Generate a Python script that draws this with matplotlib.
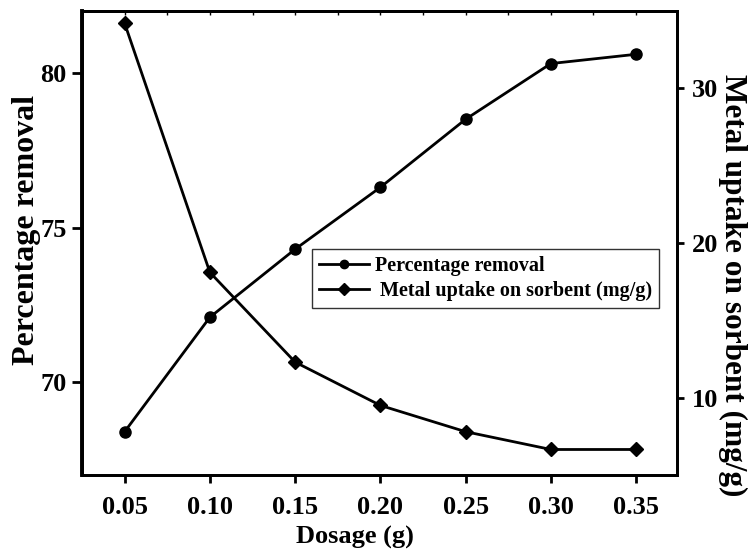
import matplotlib
matplotlib.use('Agg')
import matplotlib.pyplot as plt

# values
dosage = [0.05, 0.10, 0.15, 0.20, 0.25, 0.30, 0.35]
pct_removal = [68.4, 72.1, 74.3, 76.3, 78.5, 80.3, 80.6]
metal_uptake = [34.2, 18.1, 12.3, 9.5, 7.8, 6.65, 6.65]

plt.rcParams['font.family'] = 'Liberation Serif'
plt.rcParams['font.weight'] = 'bold'
plt.rcParams['axes.labelweight'] = 'bold'

fig = plt.figure(figsize=(7.54, 5.57), dpi=100)
ax = fig.add_axes([0.1088, 0.1472, 0.7891, 0.8331])
ax2 = ax.twinx()

l1, = ax.plot(dosage, pct_removal, color='black', lw=2.0, marker='o', ms=8,
              label='Percentage removal')
l2, = ax2.plot(dosage, metal_uptake, color='black', lw=2.0, marker='D', ms=7.5,
               label=' Metal uptake on sorbent (mg/g)')

ax.set_xlim(0.025, 0.374)
ax.set_ylim(67, 82)
ax2.set_ylim(5, 35)

ax.set_xticks(dosage)
ax.set_xticklabels([f'{d:.2f}' for d in dosage])
ax.set_yticks([70, 75, 80])
ax2.set_yticks([10, 20, 30])

ax.tick_params(axis='x', direction='out', length=6, width=2, labelsize=19, pad=9)
ax.tick_params(axis='y', direction='out', length=7, width=2, labelsize=19, pad=4)
ax2.tick_params(axis='y', direction='out', length=5, width=2, labelsize=19, pad=6)

# small inward ticks along the top edge
top = ax.secondary_xaxis('top')
top.set_xticks([0.025 * i for i in range(1, 15)])
top.tick_params(direction='in', length=3, width=1, labeltop=False)

for a in (ax, ax2):
    for s in a.spines.values():
        s.set_linewidth(2)
ax.spines['left'].set_linewidth(2.8)
top.spines['top'].set_linewidth(2)

ax.set_xlabel('Dosage (g)', fontsize=19, fontweight='bold')
ax.xaxis.set_label_coords(0.459, -0.11)
ax.set_ylabel('Percentage removal', fontsize=23, fontweight='bold', va='center')
ax.yaxis.set_label_coords(-0.094, 0.528)
ax2.set_ylabel('Metal uptake on sorbent (mg/g)', fontsize=22.5, fontweight='bold',
               rotation=270, va='center')
ax2.yaxis.set_label_coords(1.094, 0.41)

leg = ax.legend(handles=[l1, l2], loc='upper right', bbox_to_anchor=(0.970, 0.487),
                fontsize=14.5, frameon=True, fancybox=False, edgecolor='black',
                handlelength=2.5, handletextpad=0.3, borderpad=0.35, labelspacing=0.25,
                borderaxespad=0, markerscale=0.75)
leg.get_frame().set_linewidth(1.0)
leg.set_zorder(5)

fig.savefig('out.png', dpi=100, facecolor='white')
